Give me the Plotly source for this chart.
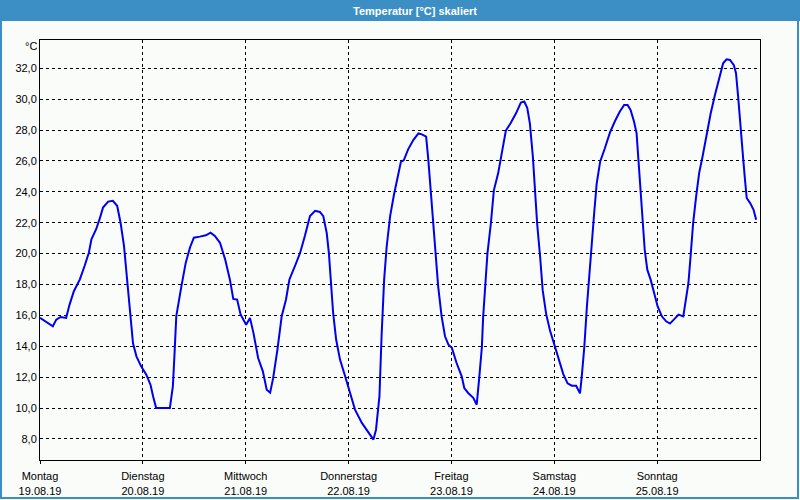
import pandas as pd
import plotly.graph_objects as go

# ---- data ----
start = "2019-08-19 00:00"
hours = [0.0, 1.5, 3.0, 3.8, 4.8, 6.1, 6.9, 7.9, 9.3, 10.4, 11.4, 12.0, 13.1, 13.9, 14.7, 15.9, 17.0, 18.0,
         18.8, 19.6, 20.1, 20.7, 21.2, 21.7, 22.5, 23.6, 24.8, 25.8, 26.4, 27.1, 30.3, 31.0, 31.4, 31.8,
         33.0, 34.0, 35.0, 35.9, 37.3, 38.7, 39.8, 40.8, 42.0, 43.2, 44.3, 45.1, 46.0, 46.8, 48.1, 49.0,
         49.8, 50.9, 52.0, 52.9, 53.7, 54.4, 55.4, 56.4, 57.4, 58.2, 59.5, 60.7, 61.8, 63.0, 64.2, 65.3,
         66.1, 66.9, 67.4, 67.9, 68.4, 69.1, 70.0, 71.2, 72.3, 73.5, 75.1, 76.2, 77.8, 78.4, 79.2, 79.7,
         80.3, 80.9, 81.7, 82.6, 83.4, 84.2, 84.9, 85.9, 87.1, 88.3, 89.1, 90.1, 90.6, 91.2, 91.8, 92.3,
         92.9, 93.7, 94.5, 95.3, 96.1, 97.2, 98.4, 99.0, 99.9, 101.1, 101.9, 102.5, 103.1, 103.4, 103.8,
         104.4, 105.2, 105.9, 106.9, 107.7, 108.7, 109.8, 111.1, 112.2, 113.0, 113.7, 114.3, 115.0, 115.5,
         116.0, 116.7, 117.3, 118.1, 119.0, 120.2, 121.2, 122.1, 123.1, 124.1, 125.1, 126.0, 126.4, 127.0,
         127.6, 128.2, 128.7, 129.3, 129.9, 130.7, 131.8, 133.0, 134.2, 135.3, 136.3, 137.1, 137.8, 138.6,
         139.2, 139.7, 140.2, 140.6, 141.1, 141.7, 142.5, 143.3, 144.1, 145.1, 146.1, 147.0, 148.0, 149.0,
         150.1, 150.7, 151.3, 151.8, 152.4, 153.1, 153.8, 154.6, 155.6, 156.5, 157.5, 158.5, 159.4, 160.2,
         161.0, 161.9, 162.4, 162.9, 163.5, 164.1, 164.5, 164.9, 165.7, 166.5, 167.1]
temps = [15.85, 15.56, 15.30, 15.73, 15.90, 15.84, 16.70, 17.57, 18.33, 19.20, 20.06, 20.93, 21.58, 22.23,
         22.98, 23.37, 23.42, 23.10, 22.00, 20.50, 18.98, 17.25, 15.73, 14.20, 13.35, 12.70, 12.16, 11.50,
         10.75, 10.00, 10.00, 11.40, 13.57, 15.95, 17.90, 19.40, 20.40, 21.03, 21.10, 21.19, 21.36, 21.14,
         20.70, 19.63, 18.33, 17.07, 17.03, 16.06, 15.40, 15.84, 14.87, 13.24, 12.38, 11.19, 11.00, 11.94,
         13.78, 15.95, 17.03, 18.33, 19.20, 20.06, 21.14, 22.44, 22.77, 22.70, 22.43, 21.35, 20.05, 18.10,
         16.16, 14.44, 13.14, 12.06, 10.98, 9.90, 9.04, 8.60, 7.96, 8.60, 10.76, 14.65, 18.32, 20.48, 22.43,
         23.83, 24.80, 25.93, 26.06, 26.75, 27.35, 27.78, 27.72, 27.57, 26.10, 23.94, 21.78, 19.84, 17.90,
         15.95, 14.65, 14.11, 13.90, 12.92, 12.06, 11.30, 10.98, 10.66, 10.22, 12.00, 13.94, 15.89, 17.84,
         20.00, 21.95, 24.10, 25.20, 26.39, 27.97, 28.44, 29.10, 29.78, 29.85, 29.42, 28.44, 26.28, 24.10,
         21.95, 19.78, 17.62, 16.10, 15.02, 13.94, 13.07, 12.20, 11.60, 11.45, 11.45, 10.95, 12.00, 13.94,
         16.54, 18.70, 20.87, 22.60, 24.55, 25.95, 26.82, 27.85, 28.60, 29.20, 29.63, 29.63, 29.30, 28.55,
         27.80, 25.75, 23.92, 21.98, 20.25, 18.96, 18.30, 17.45, 16.60, 15.94, 15.62, 15.47, 15.77, 16.05,
         15.94, 17.00, 18.10, 19.82, 21.98, 23.70, 25.21, 26.29, 27.80, 29.09, 30.28, 31.35, 32.32, 32.58,
         32.54, 32.20, 31.68, 30.17, 27.80, 26.07, 24.78, 23.60, 23.27, 22.84, 22.19]

day_names = ["Montag", "Dienstag", "Mittwoch", "Donnerstag", "Freitag", "Samstag", "Sonntag"]
day_dates = ["19.08.19", "20.08.19", "21.08.19", "22.08.19", "23.08.19", "24.08.19", "25.08.19"]
y_ticks = [8, 10, 12, 14, 16, 18, 20, 22, 24, 26, 28, 30, 32]
title_text = "Temperatur [°C] skaliert"
unit_text = "°C"

# ---- figure ----
t0 = pd.Timestamp(start)
times = [t0 + pd.Timedelta(hours=h) for h in hours]
day_ticks = [t0 + pd.Timedelta(days=i) for i in range(len(day_names))]
tick_text = [f"{n}<br>{d}" for n, d in zip(day_names, day_dates)]

W, H = 800, 500
L, R, T, B = 40, 40, 40, 40
pw, ph = W - L - R, H - T - B


def px(x):
    return (x - L) / pw


def py(y):
    return (H - B - y) / ph


FONT = "Liberation Sans, Arial, sans-serif"
BG = "#fafcfa"
FRAME = "#3c8fc4"

fig = go.Figure(go.Scatter(x=times, y=temps, mode="lines",
                           line=dict(color="#0000ee", width=2)))

fig.update_layout(
    width=W, height=H,
    margin=dict(l=L, r=R, t=T, b=B, autoexpand=False),
    paper_bgcolor=BG, plot_bgcolor=BG,
    showlegend=False,
    font=dict(family=FONT, size=11, color="#000000"),
    xaxis=dict(
        type="date",
        range=[t0, t0 + pd.Timedelta(days=7)],
        tickvals=day_ticks, ticktext=tick_text,
        showgrid=True, gridcolor="#000000", gridwidth=1, griddash="3px,3px",
        showline=True, linecolor="#000000", linewidth=1, mirror=True,
        ticks="outside", ticklen=3, tickcolor="#000000",
        ticklabelstandoff=3,
        zeroline=False, automargin=False,
    ),
    yaxis=dict(
        range=[6.64, 33.83],
        tickvals=y_ticks, tickformat=".1f",
        showgrid=True, gridcolor="#000000", gridwidth=1, griddash="3px,3px",
        showline=True, linecolor="#000000", linewidth=1, mirror=True,
        ticks="", zeroline=False, automargin=False,
    ),
    separators=",.",
    shapes=[
        dict(type="rect", xref="paper", yref="paper",
             x0=px(0), x1=px(W), y0=py(21), y1=py(0),
             fillcolor=FRAME, line=dict(width=0), layer="below"),
        dict(type="rect", xref="paper", yref="paper",
             x0=px(1), x1=px(W - 2), y0=py(H - 2), y1=py(0),
             fillcolor="rgba(0,0,0,0)", line=dict(color=FRAME, width=2)),
    ],
    annotations=[
        dict(text=f"<b>{title_text}</b>", xref="paper", yref="paper",
             x=px(415), y=py(10.5), xanchor="center", yanchor="middle",
             showarrow=False, font=dict(family=FONT, size=11, color="#ffffff")),
        dict(text=unit_text, xref="paper", yref="paper",
             x=px(31), y=py(46), xanchor="center", yanchor="middle",
             showarrow=False, font=dict(family=FONT, size=11, color="#000000")),
    ],
)

fig.write_html("out.html", config={"displayModeBar": False},
               post_script="document.body.style.margin='0px';document.body.style.overflow='hidden';")
